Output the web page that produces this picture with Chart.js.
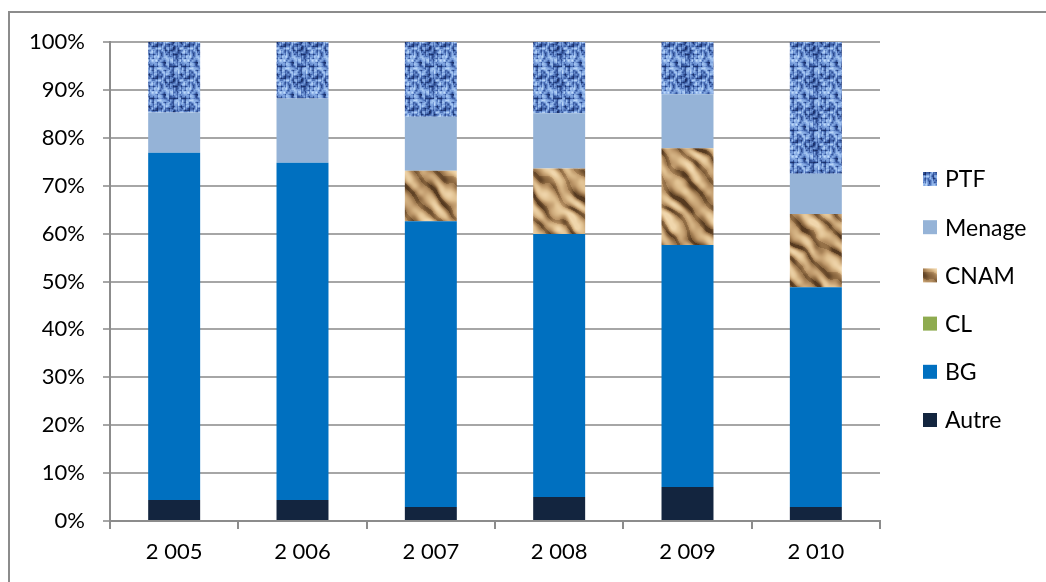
<!DOCTYPE html>
<html>
<head>
<meta charset="utf-8">
<script src="https://cdn.jsdelivr.net/npm/chart.js@4.4.1/dist/chart.umd.min.js"></script>
<style>
  html, body { margin: 0; padding: 0; background: #fff; overflow: hidden; }
  #wrap { width: 1046px; height: 582px; position: relative; }
</style>
</head>
<body>
<div id="wrap"><canvas id="c" width="1046" height="582"></canvas></div>
<script>
// Share of each funding source per year (percent of total)
const years  = ['2 005', '2 006', '2 007', '2 008', '2 009', '2 010'];
const autre  = [4.4, 4.4, 2.9, 5.0, 7.1, 2.9];
const bg     = [72.5, 70.4, 59.7, 54.9, 50.5, 45.9];
const cl     = [0, 0, 0, 0, 0, 0];
const cnam   = [0, 0, 10.5, 13.7, 20.2, 15.3];
const menage = [8.4, 13.4, 11.3, 11.5, 11.3, 8.4];
const ptf    = [14.7, 11.8, 15.6, 14.9, 10.9, 27.5];

const FONT = 'Lato, "Open Sans", sans-serif';

// deterministic hash and tileable smooth value noise for the fill textures
function hash(x, y, s) {
  const h = Math.sin(x * 127.1 + y * 311.7 + s * 74.7) * 43758.5453;
  return h - Math.floor(h);
}
function smooth(t) { return t * t * (3 - 2 * t); }
function valueNoise(x, y, cell, grid, seed) {
  const fx = x / cell, fy = y / cell;
  const x0 = Math.floor(fx), y0 = Math.floor(fy);
  const tx = smooth(fx - x0), ty = smooth(fy - y0);
  const w = (i, j) => hash(((i % grid) + grid) % grid, ((j % grid) + grid) % grid, seed);
  const a = w(x0, y0), b = w(x0 + 1, y0), c = w(x0, y0 + 1), d = w(x0 + 1, y0 + 1);
  const top = a + (b - a) * tx, bot = c + (d - c) * tx;
  return top + (bot - top) * ty;
}
function lerp(a, b, t) { return a.map((v, i) => v + (b[i] - v) * t); }
function ramp(stops, t) {
  t = Math.max(0, Math.min(1, t));
  for (let i = 1; i < stops.length; i++) {
    if (t <= stops[i][0]) {
      const [p0, c0] = stops[i - 1], [p1, c1] = stops[i];
      return lerp(c0, c1, (t - p0) / (p1 - p0));
    }
  }
  return stops[stops.length - 1][1];
}
function makeTile(ctx, N, shade) {
  const c = document.createElement('canvas'); c.width = N; c.height = N;
  const g = c.getContext('2d');
  const img = g.createImageData(N, N);
  for (let y = 0; y < N; y++) {
    for (let x = 0; x < N; x++) {
      const col = shade(x, y);
      const i = (y * N + x) * 4;
      img.data[i] = col[0]; img.data[i + 1] = col[1]; img.data[i + 2] = col[2]; img.data[i + 3] = 255;
    }
  }
  g.putImageData(img, 0, 0);
  return ctx.createPattern(c, 'repeat');
}

// woven blue fabric: mottled navy over mid blue with pale highlights
function denimPattern(ctx) {
  const N = 32;
  const stops = [
    [0.00, [24, 46, 104]],
    [0.30, [58, 92, 164]],
    [0.55, [112, 150, 214]],
    [0.80, [160, 194, 240]],
    [1.00, [196, 220, 250]]
  ];
  return makeTile(ctx, N, (x, y) => {
    let n = 0.55 * valueNoise(x, y, 2, 16, 1) + 0.45 * valueNoise(x, y, 4, 8, 2);
    // weave: short vertical and horizontal dark threads
    if (x % 4 === 1 && hash(Math.floor(x / 4), Math.floor(y / 3), 3) > 0.45) n -= 0.22;
    if (y % 4 === 2 && hash(Math.floor(x / 3), Math.floor(y / 4), 4) > 0.6) n -= 0.15;
    return ramp(stops, n * 1.15 - 0.02);
  });
}

// sandy rock: soft tan surface with irregular diagonal shadows
function sandPattern(ctx) {
  const N = 96, a = 2 * Math.PI / N;
  const stops = [
    [0.00, [86, 58, 32]],
    [0.22, [140, 104, 64]],
    [0.48, [190, 152, 106]],
    [0.74, [222, 190, 142]],
    [1.00, [240, 214, 172]]
  ];
  return makeTile(ctx, N, (x, y) => {
    const warp = valueNoise(x, y, 24, 4, 7) * 5 + valueNoise(x, y, 12, 8, 8) * 2;
    let n = 0.4 * valueNoise(x, y, 16, 6, 5) + 0.2 * valueNoise(x, y, 6, 16, 6);
    const ridge = Math.sin(a * 4 * (x - y) + warp);
    n += 0.28 * ridge + 0.12 * Math.sin(a * 6 * (x - 0.5 * y) + warp * 0.7);
    // sharp shadow edges along the ridges
    if (ridge < -0.75) n -= 0.12;
    return ramp(stops, n + 0.25);
  });
}

const canvas = document.getElementById('c');
const ctx = canvas.getContext('2d');

// frame along the top and left of the figure
const framePlugin = {
  id: 'frame',
  beforeDraw(chart) {
    const g = chart.ctx;
    g.save();
    g.strokeStyle = '#8c8c8c';
    g.lineWidth = 2;
    g.beginPath();
    g.moveTo(1046, 12);
    g.lineTo(9, 12);
    g.lineTo(9, 582);
    g.stroke();
    g.restore();
  }
};

// legend listed top-down in reverse stacking order
const sideLegend = {
  id: 'sideLegend',
  afterDraw(chart) {
    const g = chart.ctx;
    const ds = chart.data.datasets;
    const x0 = chart.chartArea.right + 43;
    g.save();
    g.font = '23px ' + FONT;
    g.textBaseline = 'middle';
    g.textAlign = 'left';
    for (let i = ds.length - 1, k = 0; i >= 0; i--, k++) {
      const y = 179 + k * 48.2;
      g.fillStyle = ds[i].backgroundColor;
      g.fillRect(x0, y - 7, 14, 14);
      g.fillStyle = '#000';
      g.fillText(ds[i].label, x0 + 22, y + 1);
    }
    g.restore();
  }
};

const series = [
  { label: 'Autre',  data: autre,  backgroundColor: '#13253f' },
  { label: 'BG',     data: bg,     backgroundColor: '#0070c0' },
  { label: 'CL',     data: cl,     backgroundColor: '#8eab4f' },
  { label: 'CNAM',   data: cnam,   backgroundColor: sandPattern(ctx) },
  { label: 'Menage', data: menage, backgroundColor: '#95b3d7' },
  { label: 'PTF',    data: ptf,    backgroundColor: denimPattern(ctx) }
];

new Chart(ctx, {
  type: 'bar',
  data: {
    labels: years,
    datasets: series.map(s => Object.assign({
      borderWidth: 0,
      barPercentage: 0.405,
      categoryPercentage: 1.0
    }, s))
  },
  options: {
    responsive: false,
    animation: false,
    events: [],
    layout: { padding: { left: 0, top: 42, right: 166, bottom: 0 } },
    plugins: {
      legend: { display: false },
      tooltip: { enabled: false }
    },
    scales: {
      x: {
        stacked: true,
        afterFit(scale) { scale.height = 61; },
        grid: {
          drawOnChartArea: false,
          drawTicks: true,
          offset: true,
          tickLength: 8,
          color: '#8c8c8c',
          lineWidth: 2
        },
        border: { color: '#8c8c8c', width: 2 },
        ticks: { color: '#000', font: { family: FONT, size: 22 }, padding: 10, maxRotation: 0 }
      },
      y: {
        stacked: true,
        min: 0,
        max: 100,
        afterFit(scale) { scale.width = 110; },
        grid: { color: '#a6a6a6', lineWidth: 2, tickLength: 7 },
        border: { color: '#8c8c8c', width: 2 },
        ticks: {
          stepSize: 10,
          color: '#000',
          padding: 18,
          font: { family: FONT, size: 22 },
          callback: v => v + '%'
        }
      }
    }
  },
  plugins: [framePlugin, sideLegend]
});
</script>
</body>
</html>
